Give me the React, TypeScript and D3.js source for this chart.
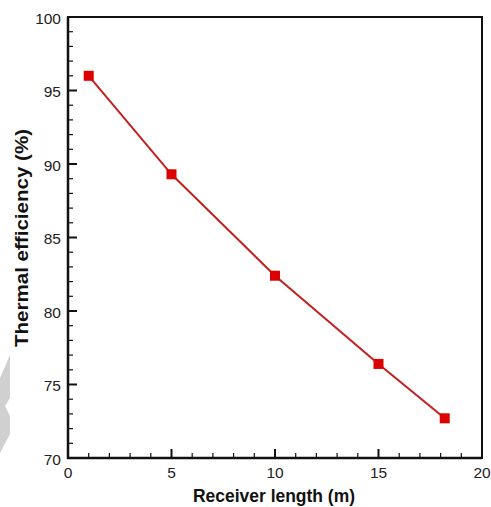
import React from "react";
import * as d3 from "d3";

const receiverLength = [1, 5, 10, 15, 18.2];
const thermalEfficiency = [96.0, 89.3, 82.4, 76.4, 72.7];
const xTicks = [0, 5, 10, 15, 20];
const yTicks = [70, 75, 80, 85, 90, 95, 100];

const W = 491;
const H = 507;
const M = { left: 68, right: 482, top: 17, bottom: 458 };

export default function App() {
  const x = d3.scaleLinear().domain([0, 20]).range([M.left, M.right]);
  const y = d3.scaleLinear().domain([70, 100]).range([M.bottom, M.top]);
  const line = d3
    .line<number>()
    .x((_, i) => x(receiverLength[i]))
    .y((d) => y(d));
  const xMinor = d3.range(0, 20.001, 1).filter((v) => v % 5 !== 0);
  const yMinor = d3.range(70, 100.001, 1).filter((v) => v % 5 !== 0);
  const font = "Arial, 'Liberation Sans', Helvetica, sans-serif";

  return (
    <svg
      width={W}
      height={H}
      style={{ position: "absolute", left: 0, top: 0, background: "#fff" }}
    >
      <rect x={0} y={0} width={W} height={H} fill="#fff" />
      {/* watermark fragment */}
      <polygon
        points="0,378 10,355 10,398 5,406 10,416 10,434 0,453"
        fill="#d0d0d0"
      />
      {/* frame */}
      <rect
        x={M.left}
        y={M.top}
        width={M.right - M.left}
        height={M.bottom - M.top}
        fill="none"
        stroke="#111"
        strokeWidth={2}
      />
      <line x1={M.left} x2={M.left} y1={M.top} y2={M.bottom + 1} stroke="#111" strokeWidth={2.5} />
      <line x1={M.left - 1} x2={M.right} y1={M.bottom} y2={M.bottom} stroke="#111" strokeWidth={2.5} />
      {/* x ticks */}
      {xTicks.map((t) => (
        <g key={"xt" + t}>
          <line x1={x(t)} x2={x(t)} y1={M.bottom} y2={M.bottom - 9} stroke="#111" strokeWidth={2} />
          <text
            x={x(t)}
            y={M.bottom + 20}
            textAnchor="middle"
            fontFamily={font}
            fontSize={15.5}
            fill="#222"
          >
            {t}
          </text>
        </g>
      ))}
      {xMinor.map((t) => (
        <line key={"xm" + t} x1={x(t)} x2={x(t)} y1={M.bottom} y2={M.bottom - 5} stroke="#111" strokeWidth={1.2} />
      ))}
      {/* y ticks */}
      {yTicks.map((t) => (
        <g key={"yt" + t}>
          <line x1={M.left} x2={M.left + 9} y1={y(t)} y2={y(t)} stroke="#111" strokeWidth={2} />
          <text
            x={M.left - 7}
            y={y(t) + 6.5}
            textAnchor="end"
            fontFamily={font}
            fontSize={15.5}
            fill="#222"
          >
            {t}
          </text>
        </g>
      ))}
      {yMinor.map((t) => (
        <line key={"ym" + t} x1={M.left} x2={M.left + 5} y1={y(t)} y2={y(t)} stroke="#111" strokeWidth={1.2} />
      ))}
      {/* data line */}
      <path d={line(thermalEfficiency) || ""} fill="none" stroke="#c42020" strokeWidth={2} />
      {thermalEfficiency.map((v, i) => (
        <rect
          key={"m" + i}
          x={x(receiverLength[i]) - 5}
          y={y(v) - 5}
          width={10}
          height={10}
          fill="#dd0000"
        />
      ))}
      {/* axis titles */}
      <text
        x={(M.left + M.right) / 2 - 1}
        y={502}
        textAnchor="middle"
        fontFamily={font}
        fontWeight="bold"
        fontSize={17.5}
        fill="#111"
        textLength={162}
        lengthAdjust="spacingAndGlyphs"
      >
        Receiver length (m)
      </text>
      <text
        transform={`translate(28, 238) rotate(-90)`}
        textAnchor="middle"
        fontFamily={font}
        fontWeight="bold"
        fontSize={17.5}
        fill="#111"
        textLength={218}
        lengthAdjust="spacingAndGlyphs"
      >
        Thermal efficiency (%)
      </text>
    </svg>
  );
}
